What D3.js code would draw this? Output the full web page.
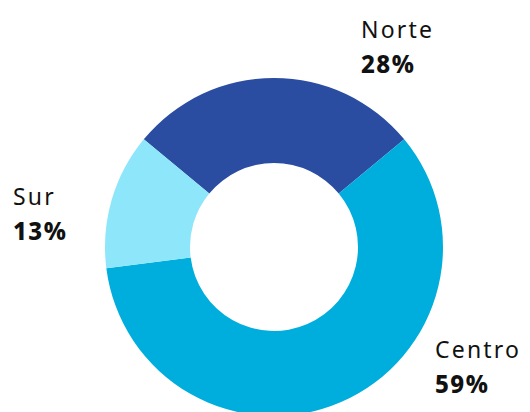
<!DOCTYPE html>
<html>
<head>
<meta charset="utf-8">
<script src="https://cdn.jsdelivr.net/npm/d3@7"></script>
<style>
  body { margin: 0; background: #fff; }
  text { font-family: "Noto Sans", sans-serif; fill: #111; }
</style>
</head>
<body>
<div id="chart"></div>
<script>
// data
var regions = ["Norte", "Centro", "Sur"];
var shares = [28, 59, 13];
var colors = ["#2a4da2", "#00aedd", "#8ee6fb"];

var width = 530, height = 412;
var cx = 274, cy = 247;
var outerR = 169, innerR = 84;

// label anchor spots (left x, baseline of name)
var labelPos = {
  "Norte":  [361, 38],
  "Centro": [435, 358],
  "Sur":    [13, 205]
};

var svg = d3.select("#chart").append("svg")
    .attr("width", width)
    .attr("height", height);

var data = regions.map(function (r, i) {
  return { region: r, value: shares[i], color: colors[i] };
});

var start = -Math.PI * 2 * shares[0] / 100 / 2;
var pie = d3.pie()
    .sort(null)
    .value(function (d) { return d.value; })
    .startAngle(start)
    .endAngle(start + Math.PI * 2);

var arc = d3.arc().innerRadius(innerR).outerRadius(outerR);

var g = svg.append("g").attr("transform", "translate(" + cx + "," + cy + ")");

g.selectAll("path")
  .data(pie(data))
  .enter().append("path")
    .attr("d", arc)
    .attr("fill", function (d) { return d.data.color; });

var labels = svg.selectAll(".lbl")
  .data(data)
  .enter().append("g")
    .attr("class", "lbl")
    .attr("transform", function (d) {
      var p = labelPos[d.region];
      return "translate(" + p[0] + "," + p[1] + ")";
    });

labels.append("text")
    .style("font-size", "23px")
    .style("letter-spacing", "2.2px")
    .text(function (d) { return d.region; });

labels.append("text")
    .attr("y", 35)
    .style("font-size", "24px")
    .style("font-weight", "800")
    .style("letter-spacing", "1.5px")
    .text(function (d) { return d.value + "%"; });
</script>
</body>
</html>
